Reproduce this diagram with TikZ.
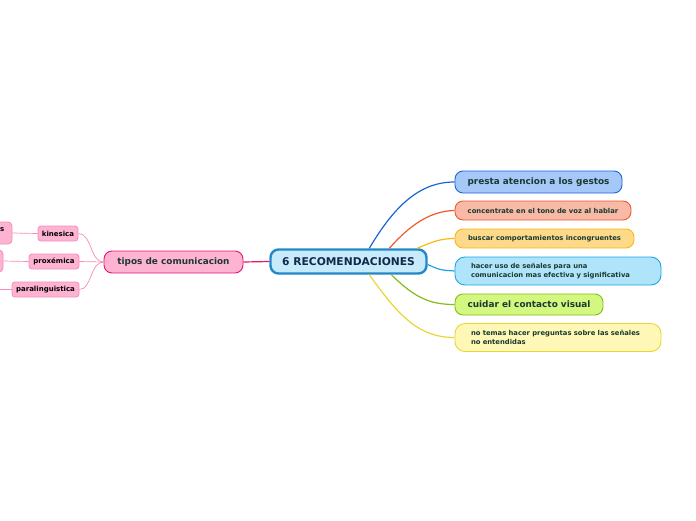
\documentclass[tikz,border=0pt]{standalone}
\usepackage{fontspec}
\setmainfont{DejaVu Sans}
\definecolor{txt}{HTML}{1A3A30}
\definecolor{cfill}{HTML}{C8EBFC}
\definecolor{cdraw}{HTML}{2288C8}
\definecolor{ctxt}{HTML}{13294B}
\definecolor{pfill}{HTML}{FFB3D2}
\definecolor{pdraw}{HTML}{E8136F}
\definecolor{plight}{HTML}{F48CB8}
\definecolor{bfill}{HTML}{A6C8F8}
\definecolor{bdraw}{HTML}{1A66D6}
\definecolor{ofill}{HTML}{F8B9A6}
\definecolor{odraw}{HTML}{F0582A}
\definecolor{yofill}{HTML}{FED98A}
\definecolor{yodraw}{HTML}{F8B912}
\definecolor{cyfill}{HTML}{B0E4FB}
\definecolor{cydraw}{HTML}{1AA6E2}
\definecolor{gfill}{HTML}{D4F77F}
\definecolor{gdraw}{HTML}{84BD1A}
\definecolor{yfill}{HTML}{FFF7B5}
\definecolor{ydraw}{HTML}{E9D634}
\tikzset{
  box/.style={rounded corners=8pt, line width=0.9pt, text=txt, font=\bfseries\fontsize{6.8}{9}\selectfont, inner sep=0pt, align=center},
  small/.style={rounded corners=3pt, line width=0.8pt, draw=plight, fill=pfill, text=black, font=\bfseries\fontsize{7}{8}\selectfont, inner sep=0pt, minimum height=15pt},
  conn/.style={line width=1.2pt},
}
\begin{document}
\begin{tikzpicture}[x=1pt,y=-1pt]
\useasboundingbox (0,0) rectangle (696,520);
\clip (0,0) rectangle (696,520);
% central
\node[box, draw=cdraw, fill=cfill, line width=2.4pt, text=ctxt, font=\bfseries\fontsize{10.7}{12}\selectfont, minimum width=156pt, minimum height=24pt] (c) at (348.5,261.5) {6 RECOMENDACIONES};
% left main
\node[box, draw=pdraw, fill=pfill, font=\bfseries\fontsize{8.9}{10}\selectfont, minimum width=139pt, minimum height=22pt] (t) at (173.5,262) {tipos de comunicacion};
\node[small, minimum width=40pt] (k) at (58,233.5) {kinesica};
\node[small, minimum width=50pt] (p) at (54,261.5) {proxémica};
\node[small, minimum width=67pt] (pl) at (45.5,289.5) {paralinguistica};
\node[small, minimum width=60pt, minimum height=22pt, rounded corners=4pt] (k2) at (-18,233) {};
\node[font=\bfseries\fontsize{7}{8}\selectfont, anchor=east, inner sep=0pt] (k2t) at (4.5,229.5) {s};
\node[small, minimum width=60pt, minimum height=22pt, rounded corners=4pt] (p2) at (-27,261) {};
\coordinate (pl2) at (-5,289.5);
% right nodes
\node[box, draw=bdraw, fill=bfill, font=\bfseries\fontsize{8.9}{10}\selectfont, minimum width=167pt, minimum height=22pt] (r1) at (538.5,182) {presta atencion a los gestos};
\node[box, draw=odraw, fill=ofill, minimum width=176pt, minimum height=19pt] (r2) at (543,210.5) {concentrate en el tono de voz al hablar};
\node[box, draw=yodraw, fill=yofill, minimum width=179pt, minimum height=19pt] (r3) at (544.5,238.5) {buscar comportamientos incongruentes};
\node[box, draw=cydraw, fill=cyfill, minimum height=28pt, text width=174pt, inner xsep=16pt, align=left, rounded corners=10pt] (r4) at (558,271) {hacer uso de señales para una\\comunicacion mas efectiva y significativa};
\node[box, draw=gdraw, fill=gfill, font=\bfseries\fontsize{8.9}{10}\selectfont, minimum width=148pt, minimum height=21pt] (r5) at (529,304.5) {cuidar el contacto visual};
\node[box, draw=ydraw, fill=yfill, minimum height=28pt, text width=174pt, inner xsep=16pt, align=left, rounded corners=10pt] (r6) at (558,337.5) {no temas hacer preguntas sobre las señales\\no entendidas};
% connectors right
\draw[conn, draw=bdraw] ([xshift=100pt]c.north west) .. controls (395,205) and (420,182) .. (r1.west);
\draw[conn, draw=odraw] ([xshift=120pt]c.north west) .. controls (410,225) and (430,211) .. (r2.west);
\draw[conn, draw=yodraw] ([xshift=148pt]c.north west) .. controls (432,242) and (440,238.5) .. (r3.west);
\draw[conn, draw=cydraw] ([yshift=-3pt]c.east) .. controls (440,270) .. (r4.west);
\draw[conn, draw=gdraw] ([xshift=122pt]c.south west) .. controls (415,298) and (430,304.5) .. (r5.west);
\draw[conn, draw=ydraw] ([xshift=100pt]c.south west) .. controls (400,318) and (420,337.5) .. (r6.west);
% connectors left
\draw[conn, draw=pdraw] (c.west) -- (t.east);
\draw[line width=0.7pt, draw=plight] (t.west) .. controls (90,262) and (92,233.5) .. (k.east);
\draw[line width=0.7pt, draw=plight] (t.west) -- (p.east);
\draw[line width=0.7pt, draw=plight] (t.west) .. controls (90,262) and (92,289.5) .. (pl.east);
\draw[line width=0.7pt, draw=plight] (k.west) -- (k2.east);
\draw[line width=0.7pt, draw=plight] (p.west) -- (p2.east);
\draw[line width=0.7pt, draw=plight] (pl.west) -- (pl2);
\end{tikzpicture}
\end{document}
